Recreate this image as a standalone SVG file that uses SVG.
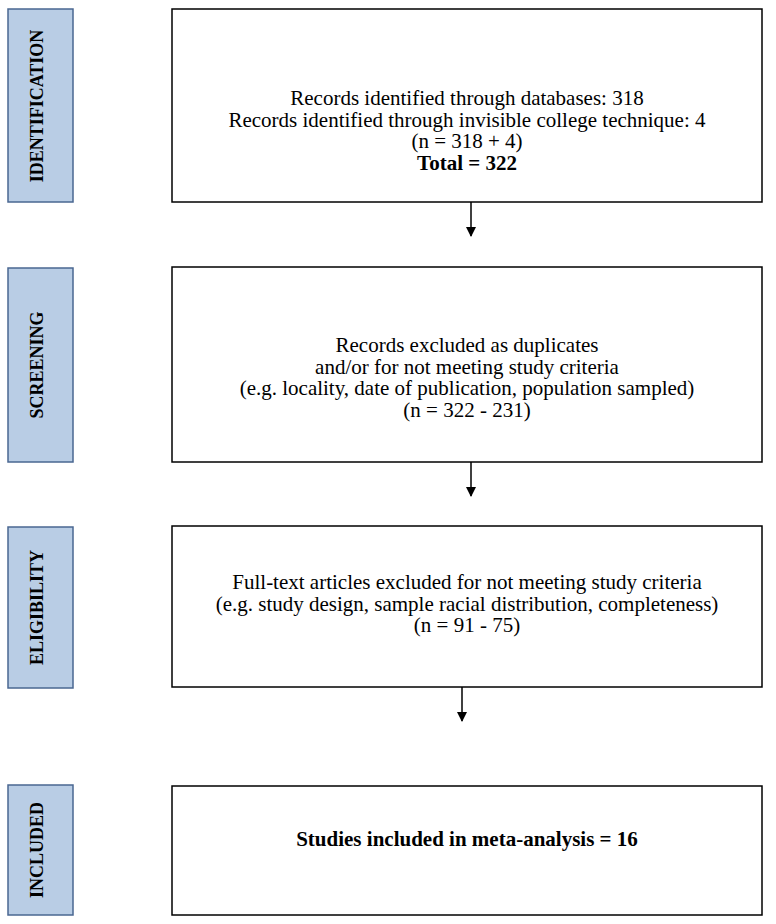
<svg xmlns="http://www.w3.org/2000/svg" width="776" height="924" viewBox="0 0 776 924">
<style>
.side{fill:#b9cde5;stroke:#4a6791;stroke-width:1.5}
.box{fill:#fff;stroke:#000;stroke-width:1.5}
.t{font-family:"Liberation Serif","Times New Roman",serif;font-size:21px;text-anchor:middle;fill:#000}
.b{font-weight:bold}
.lab{font-family:"Liberation Serif","Times New Roman",serif;font-size:18px;font-weight:bold;text-anchor:middle;fill:#000}
.con{stroke:#000;stroke-width:1.5;fill:none}
</style>
<defs>
<marker id="ah" markerWidth="10" markerHeight="10" refX="9" refY="5" orient="auto" markerUnits="userSpaceOnUse">
<path d="M0,0 L10,5 L0,10 Z" fill="#000"/>
</marker>
</defs>
<rect width="776" height="924" fill="#fff"/>
<g id="side-identification"><rect class="side" x="8" y="9" width="65" height="193"/><text class="lab" transform="translate(43,106) rotate(-90)">IDENTIFICATION</text></g>
<g id="side-screening"><rect class="side" x="8" y="268" width="65" height="194"/><text class="lab" transform="translate(43,365) rotate(-90)">SCREENING</text></g>
<g id="side-eligibility"><rect class="side" x="8" y="527" width="65" height="161"/><text class="lab" transform="translate(43,607.5) rotate(-90)">ELIGIBILITY</text></g>
<g id="side-included"><rect class="side" x="8" y="785" width="65" height="130"/><text class="lab" transform="translate(43,850) rotate(-90)">INCLUDED</text></g>
<g id="box-identification"><rect class="box" x="172" y="9" width="590" height="193"/>
<text class="t" x="467" y="105">Records identified through databases: 318</text>
<text class="t" x="467" y="126.5">Records identified through invisible college technique: 4</text>
<text class="t" x="467" y="148">(n = 318 + 4)</text>
<text class="t b" x="467" y="169.5">Total = 322</text></g>
<g id="box-screening"><rect class="box" x="172" y="267" width="590" height="195"/>
<text class="t" x="467" y="352">Records excluded as duplicates</text>
<text class="t" x="467" y="373.5">and/or for not meeting study criteria</text>
<text class="t" x="467" y="395">(e.g. locality, date of publication, population sampled)</text>
<text class="t" x="467" y="416.5">(n = 322 - 231)</text></g>
<g id="box-eligibility"><rect class="box" x="172" y="526" width="590" height="161"/>
<text class="t" x="467" y="589">Full-text articles excluded for not meeting study criteria</text>
<text class="t" x="467" y="610.5">(e.g. study design, sample racial distribution, completeness)</text>
<text class="t" x="467" y="632">(n = 91 - 75)</text></g>
<g id="box-included"><rect class="box" x="172" y="786" width="590" height="129"/>
<text class="t b" x="467" y="846">Studies included in meta-analysis = 16</text></g>
<g id="connectors">
<line class="con" x1="471" y1="202" x2="471" y2="236" marker-end="url(#ah)"/>
<line class="con" x1="471" y1="462" x2="471" y2="496" marker-end="url(#ah)"/>
<line class="con" x1="462" y1="687" x2="462" y2="721" marker-end="url(#ah)"/>
</g>
</svg>
